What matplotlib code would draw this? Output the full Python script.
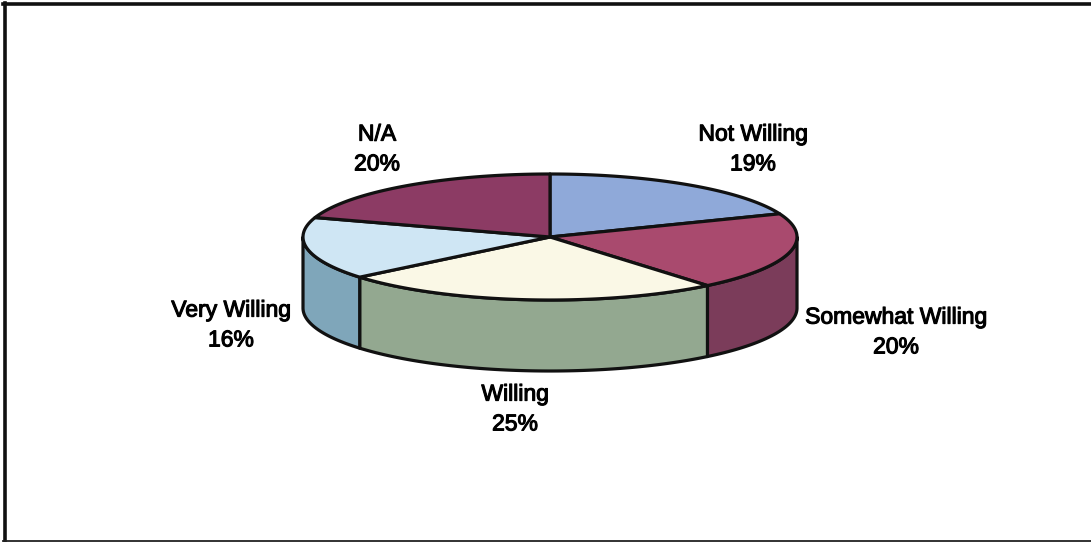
import matplotlib
matplotlib.use('Agg')
import matplotlib.pyplot as plt
import matplotlib.patheffects as pe
import numpy as np
from matplotlib.patches import Polygon

labels = ['Not Willing', 'Somewhat Willing', 'Willing', 'Very Willing', 'N/A']
values = [19, 20, 25, 16, 20]
top_colors = ['#8FA9D9', '#A94A6E', '#FAF8E6', '#CFE6F4', '#8C3B64']
side_colors = ['#6F83A8', '#7B3C5A', '#93A890', '#7FA6BA', '#6B2F4C']
label_xy = [(753, 149), (896, 332), (515, 409), (231, 325), (377, 149)]

cx, cy = 550, 237
rx, ry = 247, 63
depth = 71


def rim(a0, a1):
    t = np.radians(np.linspace(a0, a1, 120))
    return cx + rx * np.cos(t), cy - ry * np.sin(t)


fig = plt.figure(figsize=(10.91, 5.42), dpi=100)
ax = fig.add_axes([0, 0, 1, 1])
ax.set_xlim(0, 1091)
ax.set_ylim(542, 0)
ax.axis('off')

# slices run clockwise from 12 o'clock
angles = 90 - np.cumsum([0] + values) * 3.6

# side walls, only the front half of the ellipse shows
for i in range(len(values)):
    a0 = min(angles[i], 0)
    a1 = max(angles[i + 1], -180)
    if a0 <= a1:
        continue
    x, y = rim(a0, a1)
    pts = np.r_[np.c_[x, y], np.c_[x[::-1], y[::-1] + depth]]
    ax.add_patch(Polygon(pts, fc=side_colors[i], ec='#111111', lw=2.3, joinstyle='round'))

# top faces
for i in range(len(values)):
    x, y = rim(angles[i], angles[i + 1])
    pts = np.r_[[[cx, cy]], np.c_[x, y]]
    ax.add_patch(Polygon(pts, fc=top_colors[i], ec='#111111', lw=2.3, joinstyle='round'))

for name, v, (lx, ly) in zip(labels, values, label_xy):
    ax.text(lx, ly, f'{name}\n{v}%', ha='center', va='center', fontsize=16.5,
            family='Liberation Sans', linespacing=1.38, color='black',
            path_effects=[pe.withStroke(linewidth=0.8, foreground='black')])

# scanned frame: top, left and bottom edges only, no right edge in the scan
ax.plot([1091, 3], [4, 4], color='#111111', lw=2.6)
ax.plot([5, 5], [3, 542], color='#111111', lw=2.6)
ax.plot([3, 1091], [541, 541], color='#222222', lw=1.3)

fig.savefig('out.png', dpi=100)
